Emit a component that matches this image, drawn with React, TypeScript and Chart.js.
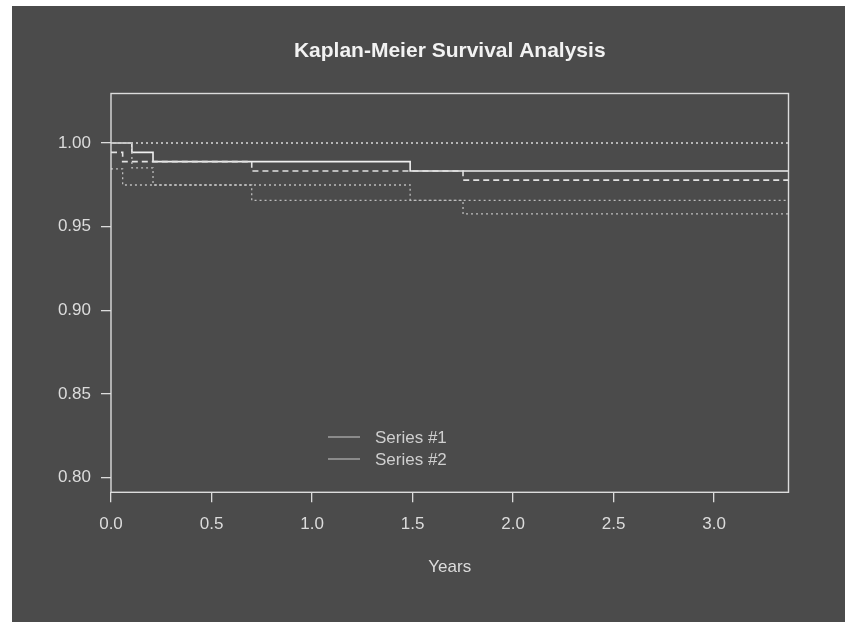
import React, { useEffect, useRef } from "react";
import { Chart, registerables } from "chart.js";

Chart.register(...registerables);

// ---- data ----
const TITLE = "Kaplan-Meier Survival Analysis";
const X_LABEL = "Years";
const SERIES_NAMES = ["Series #1", "Series #2"];

const S1_TIMES = [0, 0.104, 0.209, 1.488, 3.37];
const S1_SURV = [1.0, 0.9944, 0.9889, 0.9833, 0.9833];
const S1_UPPER = [1.0, 1.0, 1.0, 1.0, 1.0];
const S1_LOWER = [1.0, 0.9851, 0.9749, 0.9657, 0.9657];

const S2_TIMES = [0, 0.058, 0.7, 1.751, 3.37];
const S2_SURV = [0.9944, 0.9889, 0.9833, 0.9778, 0.9778];
const S2_UPPER = [1.0, 1.0, 1.0, 1.0, 1.0];
const S2_LOWER = [0.9845, 0.9749, 0.9657, 0.9576, 0.9576];

const X_TICKS = [0, 0.5, 1.0, 1.5, 2.0, 2.5, 3.0];
const Y_TICKS = [0.8, 0.85, 0.9, 0.95, 1.0];
const X_MIN = 0;
const X_MAX = 3.37;
const Y_MIN = 0.7912;
const Y_MAX = 1.0296;

// ---- styles ----
const W = 854;
const H = 630;
const BG = "#4b4b4b";
const FG = "#dcdcdc";
const FONT = "'Liberation Sans', Arial, Helvetica, sans-serif";

const pts = (ts: number[], vs: number[]) => ts.map((t, i) => ({ x: t, y: vs[i] }));

const decorPlugin = {
  id: "decor",
  beforeDraw(chart: any) {
    const ctx = chart.ctx;
    ctx.save();
    ctx.fillStyle = "#ffffff";
    ctx.fillRect(0, 0, W, H);
    ctx.fillStyle = BG;
    ctx.fillRect(12, 6, 833, 616);
    ctx.restore();
  },
  afterDraw(chart: any) {
    const ctx = chart.ctx;
    const a = chart.chartArea;
    ctx.save();
    // box
    ctx.strokeStyle = FG;
    ctx.lineWidth = 1.4;
    ctx.strokeRect(a.left, a.top, a.right - a.left, a.bottom - a.top);
    // title
    ctx.fillStyle = "#f2f2f2";
    ctx.font = `bold 21px ${FONT}`;
    ctx.textAlign = "center";
    ctx.textBaseline = "middle";
    ctx.fillText(TITLE, (a.left + a.right) / 2, 51);
    // x label
    ctx.fillStyle = FG;
    ctx.font = `17px ${FONT}`;
    ctx.fillText(X_LABEL, (a.left + a.right) / 2, 567);
    // legend
    const ys = [437, 459];
    ctx.textAlign = "left";
    ctx.font = `17px ${FONT}`;
    SERIES_NAMES.forEach((name, i) => {
      ctx.strokeStyle = "#a8a8a8";
      ctx.lineWidth = 1.4;
      ctx.beginPath();
      ctx.moveTo(328, ys[i]);
      ctx.lineTo(360, ys[i]);
      ctx.stroke();
      ctx.fillStyle = "#cfcfcf";
      ctx.fillText(name, 375, ys[i] + 1);
    });
    ctx.restore();
  },
};

export default function App() {
  const ref = useRef<HTMLCanvasElement | null>(null);

  useEffect(() => {
    if (!ref.current) return;
    const ciStyle = {
      borderColor: "#bdbdbd",
      borderWidth: 1.3,
      borderDash: [2, 3],
      pointRadius: 0,
      fill: false,
      stepped: "before" as const,
    };
    const chart = new Chart(ref.current, {
      type: "line",
      data: {
        datasets: [
          { label: "s1u", data: pts(S1_TIMES, S1_UPPER), ...ciStyle },
          { label: "s1l", data: pts(S1_TIMES, S1_LOWER), ...ciStyle },
          { label: "s2u", data: pts(S2_TIMES, S2_UPPER), ...ciStyle },
          { label: "s2l", data: pts(S2_TIMES, S2_LOWER), ...ciStyle },
          {
            label: SERIES_NAMES[1],
            data: pts(S2_TIMES, S2_SURV),
            borderColor: "#e2e2e2",
            borderWidth: 1.6,
            borderDash: [6, 4],
            pointRadius: 0,
            fill: false,
            stepped: "before",
          },
          {
            label: SERIES_NAMES[0],
            data: pts(S1_TIMES, S1_SURV),
            borderColor: "#f0f0f0",
            borderWidth: 1.6,
            pointRadius: 0,
            fill: false,
            stepped: "before",
          },
        ],
      },
      options: {
        animation: false,
        responsive: false,
        devicePixelRatio: 1,
        layout: { padding: { top: 93.5, right: 65.5, left: 0, bottom: 0 } },
        plugins: {
          legend: { display: false },
          tooltip: { enabled: false },
          title: { display: false },
        },
        scales: {
          x: {
            type: "linear",
            min: X_MIN,
            max: X_MAX,
            afterFit: (s: any) => {
              s.height = H - 492.3;
            },
            afterBuildTicks: (s: any) => {
              s.ticks = X_TICKS.map((v) => ({ value: v }));
            },
            grid: {
              drawOnChartArea: false,
              drawTicks: true,
              tickLength: 10,
              color: FG,
              lineWidth: 1.3,
            },
            border: { display: false },
            ticks: {
              color: FG,
              font: { family: FONT, size: 17 },
              padding: 12,
              maxRotation: 0,
              autoSkip: false,
              callback: (v: any) => Number(v).toFixed(1),
            },
          },
          y: {
            type: "linear",
            min: Y_MIN,
            max: Y_MAX,
            afterFit: (s: any) => {
              s.width = 111;
            },
            afterBuildTicks: (s: any) => {
              s.ticks = Y_TICKS.map((v) => ({ value: v }));
            },
            grid: {
              drawOnChartArea: false,
              drawTicks: true,
              tickLength: 10,
              color: FG,
              lineWidth: 1.3,
            },
            border: { display: false },
            ticks: {
              color: FG,
              font: { family: FONT, size: 17 },
              padding: 10,
              autoSkip: false,
              callback: (v: any) => Number(v).toFixed(2),
            },
          },
        },
      },
      plugins: [decorPlugin],
    });
    return () => chart.destroy();
  }, []);

  return (
    <div style={{ position: "absolute", left: 0, top: 0, width: W, height: H }}>
      <canvas ref={ref} width={W} height={H} style={{ display: "block", width: W, height: H }} />
    </div>
  );
}
